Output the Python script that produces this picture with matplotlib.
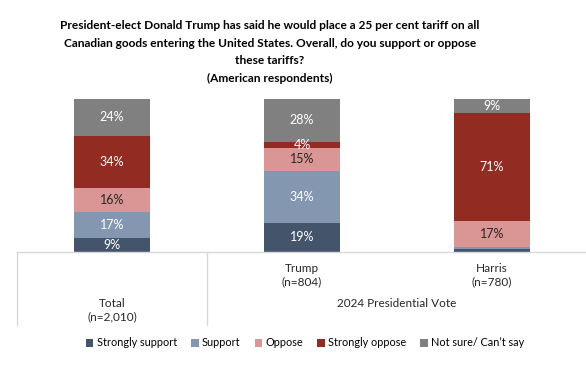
import numpy as np
import matplotlib
matplotlib.use("Agg")
import matplotlib.pyplot as plt
import matplotlib.transforms as mtransforms

plt.rcParams["font.family"] = ["Lato", "DejaVu Sans"]

groups = ["Total\n(n=2,010)", "Trump\n(n=804)", "Harris\n(n=780)"]
series = ["Strongly support", "Support", "Oppose", "Strongly oppose", "Not sure/ Can\u2019t say"]
strongly_support = [9, 19, 2]
support = [17, 34, 1]
oppose = [16, 15, 17]
strongly_oppose = [34, 4, 71]
not_sure = [24, 28, 9]
group_title = "2024 Presidential Vote"

colors = ["#44546A", "#8497B0", "#DA9694", "#922B21", "#808080"]
label_colors = ["white", "white", "#262626", "white", "white"]
title = ("President-elect Donald Trump has said he would place a 25 per cent tariff on all\n"
         "Canadian goods entering the United States. Overall, do you support or oppose\n"
         "these tariffs?\n(American respondents)")

fig = plt.figure(figsize=(5.86, 3.72), dpi=100)
ax = fig.add_axes([17 / 586, 120 / 372, 570 / 586, 153 / 372])

x = np.arange(len(groups))
bottom = np.zeros(len(groups))
handles = []
for vals, name, c, lc in zip([strongly_support, support, oppose, strongly_oppose, not_sure],
                             series, colors, label_colors):
    vals = np.array(vals, dtype=float)
    b = ax.bar(x, vals, 0.4, bottom=bottom, color=c, label=name)
    handles.append(b)
    for xi, v, b0 in zip(x, vals, bottom):
        if v >= 4:
            ax.text(xi, b0 + v / 2, f"{int(v)}%", ha="center", va="center",
                    fontsize=9, color=lc)
    bottom += vals

ax.set_xlim(-0.5, 2.5)
ax.set_ylim(0, 100)
for s in ax.spines.values():
    s.set_visible(False)
ax.set_xticks([])
ax.set_yticks([])

# category axis with two levels
trans = mtransforms.blended_transform_factory(ax.transData, ax.transAxes)
line_col = "#D9D9D9"
ax.plot([-0.5, 2.6], [0, 0], transform=trans, color=line_col, lw=1, clip_on=False)
for xv in [-0.5, 0.5]:
    ax.plot([xv, xv], [0, -0.477], transform=trans, color=line_col, lw=1, clip_on=False)

ax.text(0, -0.38, groups[0], transform=trans, ha="center", va="center",
        fontsize=8.5, color="#262626", linespacing=1.3)
for i in [1, 2]:
    ax.text(i, -0.15, groups[i], transform=trans, ha="center", va="center",
            fontsize=8.5, color="#262626", linespacing=1.3)
ax.text(1.5, -0.335, group_title, transform=trans, ha="center", va="center",
        fontsize=8.5, color="#262626")

fig.text(270 / 586, 1 - 52 / 372, title, ha="center", va="center", fontsize=8.6,
         fontweight="bold", linespacing=1.75)

fig.legend(handles=handles, labels=series, loc="center", ncol=5, frameon=False,
           bbox_to_anchor=(305 / 586, 1 - 343 / 372), fontsize=7.8,
           handlelength=0.7, handleheight=0.7, handletextpad=0.3, columnspacing=1.3)

fig.savefig("out.png", dpi=100)
